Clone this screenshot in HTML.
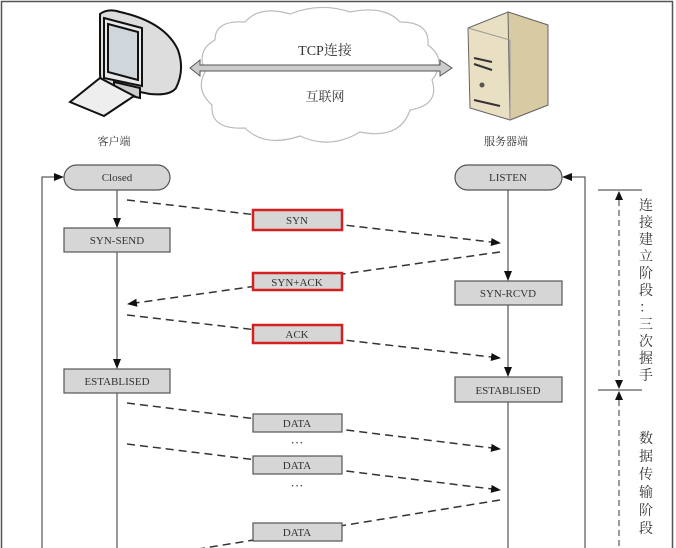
<!DOCTYPE html>
<html><head><meta charset="utf-8"><style>
html,body{margin:0;padding:0;background:#fff}
svg{display:block}
text{font-family:"Liberation Serif","Noto Serif CJK SC",serif;fill:#333}
</style></head><body>
<svg width="676" height="548" viewBox="0 0 676 548" xmlns="http://www.w3.org/2000/svg">
<defs>
<marker id="a" markerWidth="10" markerHeight="10" refX="9" refY="5" orient="auto" markerUnits="userSpaceOnUse"><path d="M0,1 L10,5 L0,9 Z" fill="#111"/></marker>
</defs>
<rect x="1.5" y="1.5" width="671" height="560" fill="none" stroke="#555" stroke-width="1.5"/>
<!-- computer -->
<g stroke="#111" stroke-width="2">
<path d="M100,14 Q108,8 120,12 Q165,22 178,50 Q185,70 176,88 Q170,96 150,94 L110,86 Q100,84 100,74 Z" fill="#ddd"/>
<path d="M104,18 L142,28 L142,86 L104,78 Z" fill="#e8e8e8"/>
<path d="M108,24 L138,32 L138,80 L108,72 Z" fill="#cfd6dc"/>
<path d="M114,82 L140,88 L140,98 L114,92 Z" fill="#ccc"/>
<path d="M70,102 L100,78 L134,96 L104,116 Z" fill="#eee"/>
</g>
<!-- cloud -->
<path d="M215,40 Q215,20 245,22 Q260,5 290,14 Q320,2 350,12 Q385,5 400,22 Q430,22 428,45 Q448,60 432,80 Q440,105 410,110 Q400,140 360,132 Q330,150 300,136 Q265,148 245,128 Q210,130 212,105 Q195,90 205,72 Q196,50 215,40 Z" fill="#fff" stroke="#bbb" stroke-width="1.2"/>
<path d="M190,68 L200,60 L200,65 L440,65 L440,60 L452,68 L440,76 L440,71 L200,71 L200,76 Z" fill="#ccc" stroke="#555" stroke-width="1"/>
<text x="325" y="55" font-size="14" text-anchor="middle">TCP连接</text>
<text x="325" y="101" font-size="13" text-anchor="middle">互联网</text>
<!-- server -->
<path d="M468,28 L508,12 L548,25 L548,105 L510,120 L470,108 Z" fill="#e9dfc3" stroke="#666"/>
<path d="M508,12 L548,25 L548,105 L510,120 Z" fill="#d8cba4" stroke="#666"/>
<path d="M468,28 L510,40 L510,120" fill="none" stroke="#999"/>
<path d="M474,58 L492,62 M474,64 L492,70 M474,100 L500,106" stroke="#333" stroke-width="2"/>
<circle cx="482" cy="85" r="2.5" fill="#555"/>
<text x="114" y="145" font-size="11" text-anchor="middle">客户端</text>
<text x="506" y="145" font-size="11" text-anchor="middle">服务器端</text>
<!-- lifelines -->
<g stroke="#333" stroke-width="1" fill="none">
<line x1="117" y1="190" x2="117" y2="227" marker-end="url(#a)"/>
<line x1="117" y1="251" x2="117" y2="368" marker-end="url(#a)"/>
<line x1="117" y1="393" x2="117" y2="548"/>
<line x1="508" y1="190" x2="508" y2="280" marker-end="url(#a)"/>
<line x1="508" y1="305" x2="508" y2="376" marker-end="url(#a)"/>
<line x1="508" y1="402" x2="508" y2="548"/>
<polyline points="42,548 42,177 63,177" marker-end="url(#a)"/>
<polyline points="585,548 585,177 563,177" marker-end="url(#a)"/>
</g>
<g fill="#d6d6d6" stroke="#555" stroke-width="1.2">
<rect x="64" y="165" width="106" height="25" rx="12.5"/>
<rect x="455" y="165" width="107" height="25" rx="12.5"/>
<rect x="64" y="228" width="106" height="24"/>
<rect x="64" y="369" width="106" height="24"/>
<rect x="455" y="281" width="107" height="24"/>
<rect x="455" y="377" width="107" height="25"/>
</g>
<g font-size="11" text-anchor="middle">
<text x="117" y="181">Closed</text>
<text x="508" y="181">LISTEN</text>
<text x="117" y="244">SYN-SEND</text>
<text x="117" y="385">ESTABLISED</text>
<text x="508" y="297">SYN-RCVD</text>
<text x="508" y="394">ESTABLISED</text>
</g>
<!-- dashed arrows -->
<g stroke="#333" stroke-width="1.5" stroke-dasharray="8,5" fill="none" marker-end="url(#a)">
<line x1="127" y1="200" x2="500" y2="243"/>
<line x1="500" y1="252" x2="128" y2="304"/>
<line x1="127" y1="315" x2="500" y2="358"/>
<line x1="127" y1="403" x2="500" y2="449"/>
<line x1="127" y1="444" x2="500" y2="490"/>
<line x1="500" y1="500" x2="100" y2="565"/>
</g>
<g fill="#d6d6d6" stroke-width="2.5" stroke="#d42020">
<rect x="253" y="210" width="89" height="20"/>
<rect x="253" y="273" width="89" height="17"/>
<rect x="253" y="325" width="89" height="18"/>
</g>
<g fill="#d6d6d6" stroke="#555" stroke-width="1.2">
<rect x="253" y="414" width="89" height="18"/>
<rect x="253" y="456" width="89" height="18"/>
<rect x="253" y="523" width="89" height="18"/>
</g>
<g font-size="11" text-anchor="middle">
<text x="297" y="224">SYN</text>
<text x="297" y="286">SYN+ACK</text>
<text x="297" y="338">ACK</text>
<text x="297" y="427">DATA</text>
<text x="297" y="469">DATA</text>
<text x="297" y="536">DATA</text>
<text x="297" y="447" font-size="13">···</text>
<text x="297" y="490" font-size="13">···</text>
</g>
<!-- bracket -->
<g stroke="#333" stroke-width="1">
<line x1="598" y1="190" x2="642" y2="190"/>
<line x1="598" y1="390" x2="642" y2="390"/>
<line x1="619" y1="200" x2="619" y2="382" stroke-dasharray="6,4"/>
<line x1="619" y1="400" x2="619" y2="548" stroke-dasharray="6,4"/>
</g>
<path d="M615,200 L619,191 L623,200 Z M615,380 L619,389 L623,380 Z M615,400 L619,391 L623,400 Z" fill="#111"/>
<g font-size="14" text-anchor="middle" fill="#555">
<text x="646" y="210">连</text><text x="646" y="227">接</text><text x="646" y="244">建</text><text x="646" y="261">立</text><text x="646" y="278">阶</text><text x="646" y="295">段</text><text x="646" y="312">：</text><text x="646" y="329">三</text><text x="646" y="346">次</text><text x="646" y="363">握</text><text x="646" y="380">手</text>
<text x="646" y="443">数</text><text x="646" y="461">据</text><text x="646" y="479">传</text><text x="646" y="497">输</text><text x="646" y="515">阶</text><text x="646" y="533">段</text>
</g>
</svg>
</body></html>
